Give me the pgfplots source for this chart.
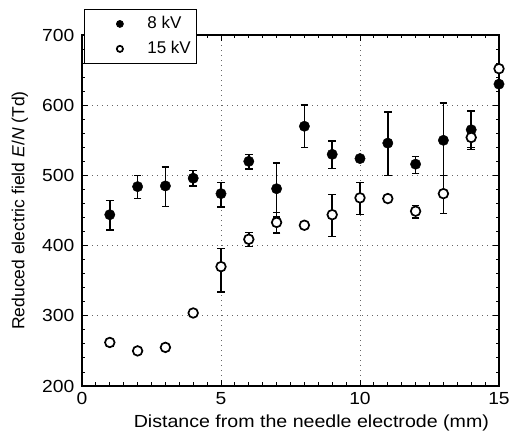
\documentclass[border=0pt]{standalone}
\usepackage{pgfplots}
\pgfplotsset{compat=1.18}
\usepackage{fontspec}
\setmainfont{Liberation Sans}
\pgfplotsset{mylegend/.style={legend image code/.code={\path (0pt,0pt) (56pt,0pt); \draw[##1, mark size=#1] plot coordinates {(31pt,0pt)};}},
  ebars/.style={only marks, mark=none, forget plot, black,
  error bars/.cd, y dir=both, y explicit,
  error bar style={line width=1.5pt, black}, error mark options={rotate=90, mark size=3.8pt, line width=1.5pt}}}
\begin{document}
\fontsize{17.5}{21}\selectfont
\begin{tikzpicture}
\useasboundingbox (-82pt,-49pt) rectangle (427pt,386pt);
\begin{axis}[
  at={(0pt,0pt)}, anchor=south west,
  scale only axis, width=417pt, height=351pt,
  xmin=0, xmax=15, ymin=200, ymax=700,
  xtick={0,5,10,15}, ytick={200,300,400,500,600,700},
  minor x tick num=9, minor y tick num=4,
  tick align=inside, major tick length=6pt, minor tick length=3.5pt,
  tick style={black, line width=0.9pt},
  axis line style={line width=1.1pt},
  xmajorgrids, ymajorgrids,
  major grid style={black!60, line width=0.8pt, dash pattern=on 1pt off 4pt},
  /pgf/number format/assume math mode=true,
  ticklabel style={font=\fontsize{17.5}{21}\selectfont, xscale=1.1},
  yticklabel style={xshift=-1pt},
  xlabel={Distance from the needle electrode (mm)},
  ylabel={Reduced electric field \textit{E}/\textit{N} (Td)},
  xlabel style={font=\fontsize{17.5}{21}\selectfont, xscale=1.12, at={(axis description cs:0.55,-0.105)}, anchor=center},
  ylabel style={font=\fontsize{17.5}{21}\selectfont, at={(axis description cs:-0.149,0.5)}, anchor=center},
  legend style={at={(axis description cs:0.0048,1.074)}, anchor=north west, draw=black, line width=0.9pt,
    font=\fontsize{17}{20}\selectfont, inner xsep=4pt, inner ysep=5pt,
    row sep=6pt, cells={anchor=west}, column sep=0pt},
  legend cell align=left,
  clip=false,
]
% error bars (drawn first, below the marks)
\addplot[ebars] coordinates {
(1,444) += (0,20) -= (0,22)
(2,484) += (0,16) -= (0,17)
(3,485) += (0,27) -= (0,29)
(4,496) += (0,11) -= (0,11)
(5,474) += (0,16) -= (0,19)
(6,520) += (0,10) -= (0,11)
(7,481) += (0,37) -= (0,40)
(8,570) += (0,30) -= (0,30)
(9,530) += (0,19) -= (0,20)
(11,546) += (0,44) -= (0,46)
(12,516) += (0,11) -= (0,13)
(13,550) += (0,53) -= (0,50)
(14,565) += (0,27) -= (0,28)
};
\addplot[ebars] coordinates {
(1,262) += (0,4) -= (0,6)
(5,370) += (0,26) -= (0,36)
(6,409) += (0,10) -= (0,10)
(7,433) += (0,14) -= (0,15)
(9,444) += (0,29) -= (0,31)
(10,468) += (0,22) -= (0,24)
(12,449) += (0,8) -= (0,10)
(13,474) += (0,26) -= (0,28)
(14,554) += (0,9) -= (0,14)
};
\addplot[only marks, mark=*, mark size=5.2pt, mark options={fill=black, draw=black}, mylegend=3.4pt]
coordinates {
(1,444) (2,484) (3,485) (4,496) (5,474) (6,520) (7,481) (8,570)
(9,530) (10,524) (11,546) (12,516) (13,550) (14,565) (15,630)
};
\addlegendentry{8 kV}
\addplot[only marks, mark=*, mark size=4.8pt, mark options={fill=white, draw=black, line width=1.7pt}, mylegend=3.1pt]
coordinates {
(1,262) (2,250) (3,255) (4,304) (5,370) (6,409) (7,433) (8,429)
(9,444) (10,468) (11,467) (12,449) (13,474) (14,554) (15,652)
};
\addlegendentry{15 kV}
\end{axis}
\end{tikzpicture}
\end{document}
